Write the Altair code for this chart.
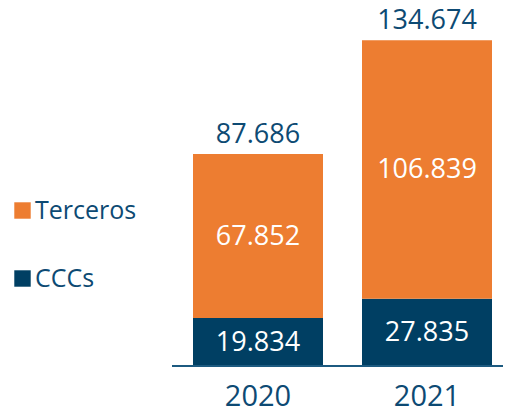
import altair as alt
import pandas as pd

years = ["2020", "2021"]
series = ["CCCs", "Terceros"]
ccc = [19834, 27835]
terceros = [67852, 106839]
totals = [87686, 134674]

ORANGE = "#ed7d31"
NAVY = "#003f63"
TEXT = "#0d4a73"
FONT = "Open Sans"


def fmt(v):
    return f"{v:,}".replace(",", ".")


rows = []
for i, y in enumerate(years):
    start = 0
    for j, (s, vals) in enumerate(zip(series, [ccc, terceros])):
        v = vals[i]
        rows.append({"year": y, "series": s, "value": v, "ord": j,
                     "mid": start + v / 2, "label": fmt(v)})
        start += v
df = pd.DataFrame(rows)
tot = pd.DataFrame({"year": years, "total": totals, "label": [fmt(t) for t in totals]})

xscale = alt.Scale(domain=years, range=[185, 484], paddingInner=0.2308, paddingOuter=0)
yscale = alt.Scale(domain=[0, 148000], nice=False)

x = alt.X("year:N", scale=xscale,
          axis=alt.Axis(title=None, domain=False, ticks=False, labelAngle=0,
                        labelFontSize=29, labelColor=TEXT, labelFont=FONT,
                        labelPadding=16))

bars = alt.Chart(df).mark_bar().encode(
    x=x,
    y=alt.Y("value:Q", stack="zero", scale=yscale, axis=None),
    color=alt.Color("series:N",
                    scale=alt.Scale(domain=["Terceros", "CCCs"], range=[ORANGE, NAVY]),
                    legend=alt.Legend(title=None, orient="none", legendX=2, legendY=190,
                                      padding=0,
                                      symbolType="square", symbolSize=270,
                                      symbolStrokeWidth=0, labelFontSize=25,
                                      labelFont=FONT, labelColor=TEXT,
                                      rowPadding=42, labelOffset=0)),
    order=alt.Order("ord:Q"),
)

inner = alt.Chart(df).mark_text(color="white", fontSize=27, font=FONT, baseline="middle", dy=1).encode(
    x=alt.X("year:N", scale=xscale),
    y=alt.Y("mid:Q", scale=yscale),
    text="label:N",
)

top = alt.Chart(tot).mark_text(color=TEXT, fontSize=27, font=FONT, baseline="alphabetic", dy=-11).encode(
    x=alt.X("year:N", scale=xscale),
    y=alt.Y("total:Q", scale=yscale),
    text="label:N",
)

axis_line = alt.Chart(tot).mark_rule(color="#1c5a80", strokeWidth=2).encode(
    x=alt.value(164), x2=alt.value(500), y=alt.value(358)
)

chart = alt.layer(bars, inner, top, axis_line).properties(
    width=495, height=358,
    padding={"left": 0, "top": 0, "right": 0, "bottom": 41},
    autosize=alt.AutoSizeParams(type="none"),
).configure_view(stroke=None)

chart.save("out.html", embed_options={"renderer": "svg", "actions": False})
